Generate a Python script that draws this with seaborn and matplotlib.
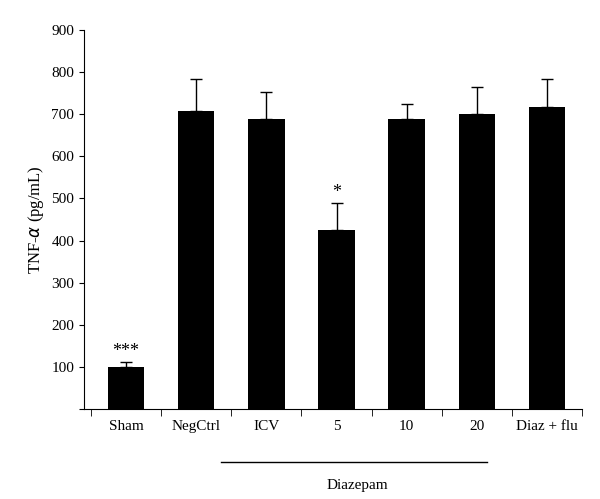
import matplotlib
matplotlib.use("Agg")
import matplotlib.pyplot as plt
import seaborn as sns
import pandas as pd

categories = ["Sham", "NegCtrl", "ICV", "5", "10", "20", "Diaz + flu"]
values = [100, 707, 688, 425, 688, 700, 718]
errors = [12, 76, 64, 65, 37, 65, 65]
stars = ["***", "", "", "*", "", "", ""]

plt.rcParams["font.family"] = "Liberation Serif"
fig = plt.figure(figsize=(6, 4.99), dpi=100)
ax = fig.add_axes([0.14, 0.18, 0.83, 0.76])
df = pd.DataFrame({"cat": categories, "val": values})
sns.barplot(data=df, x="cat", y="val", color="black", width=0.52, ax=ax, saturation=1)
for i, (v, e) in enumerate(zip(values, errors)):
    ax.errorbar(i, v, yerr=[[0], [e]], color="black", capsize=4, lw=1)
    if stars[i]:
        ax.text(i, v + e + 5, stars[i], ha="center", va="bottom", fontsize=13)
ax.set_ylim(0, 900)
ax.set_xlim(-0.6, 6.4)
ax.set_yticks(range(0, 901, 100))
ax.set_yticklabels(["" if t == 0 else str(t) for t in range(0, 901, 100)])
ax.set_ylabel("TNF-$\\alpha$ (pg/mL)", fontsize=12)
ax.set_xlabel("")
ax.set_xticks([i + 0.5 for i in range(-1, 7)], minor=True)
ax.tick_params(axis="x", which="major", length=0, labelsize=11, pad=8)
ax.tick_params(axis="x", which="minor", length=5)
ax.tick_params(axis="y", labelsize=11)
for s in ["top", "right"]:
    ax.spines[s].set_visible(False)
ax.plot([1.35, 5.15], [-0.14 * 900, -0.14 * 900], color="black", lw=1, clip_on=False)
ax.text(3.3, -0.2 * 900, "Diazepam", ha="center", va="center", fontsize=11)
fig.savefig("out.png", dpi=100)
